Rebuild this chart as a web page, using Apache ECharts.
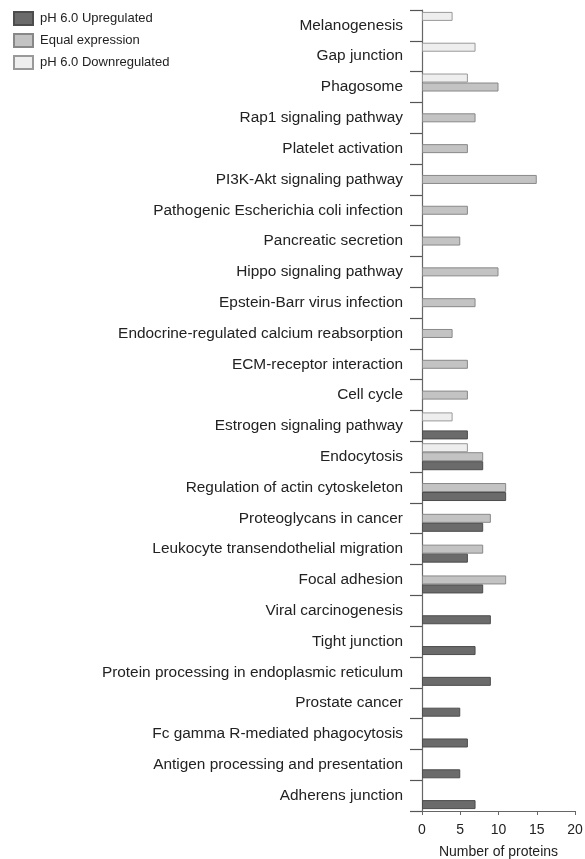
<!DOCTYPE html>
<html>
<head>
<meta charset="utf-8">
<script src="https://cdn.jsdelivr.net/npm/echarts@6/dist/echarts.min.js"></script>
<style>
  html, body { margin: 0; padding: 0; background: #fff; }
  #chart { width: 585px; height: 859px; }
</style>
</head>
<body>
<div id="chart"></div>
<script>
// KEGG pathways, listed top to bottom
const pathways = [
  'Melanogenesis',
  'Gap junction',
  'Phagosome',
  'Rap1 signaling pathway',
  'Platelet activation',
  'PI3K-Akt signaling pathway',
  'Pathogenic Escherichia coli infection',
  'Pancreatic secretion',
  'Hippo signaling pathway',
  'Epstein-Barr virus infection',
  'Endocrine-regulated calcium reabsorption',
  'ECM-receptor interaction',
  'Cell cycle',
  'Estrogen signaling pathway',
  'Endocytosis',
  'Regulation of actin cytoskeleton',
  'Proteoglycans in cancer',
  'Leukocyte transendothelial migration',
  'Focal adhesion',
  'Viral carcinogenesis',
  'Tight junction',
  'Protein processing in endoplasmic reticulum',
  'Prostate cancer',
  'Fc gamma R-mediated phagocytosis',
  'Antigen processing and presentation',
  'Adherens junction'
];

// Number of proteins per pathway (null = no proteins in that group)
const upregulated = [
  null, null, null, null, null, null, null, null, null, null, null, null, null,
  6, 8, 11, 8, 6, 8, 9, 7, 9, 5, 6, 5, 7
];
const equalExpression = [
  null, null, 10, 7, 6, 15, 6, 5, 10, 7, 4, 6, 6,
  null, 8, 11, 9, 8, 11, null, null, null, null, null, null, null
];
const downregulated = [
  4, 7, 6, null, null, null, null, null, null, null, null, null, null,
  4, 6, null, null, null, null, null, null, null, null, null, null, null
];

const xTicks = { min: 0, max: 20, interval: 5 };

const FONT = '"Liberation Sans", Arial, Helvetica, sans-serif';

const chart = echarts.init(document.getElementById('chart'), null, { renderer: 'canvas' });

function barSeries(name, data, fill, border) {
  return {
    name: name,
    type: 'bar',
    data: data,
    barWidth: 9,
    barGap: '0%',
    itemStyle: { color: fill, borderColor: border, borderWidth: 1 },
    emphasis: { disabled: true },
    animation: false
  };
}

chart.setOption({
  backgroundColor: '#ffffff',
  animation: false,
  textStyle: { fontFamily: FONT },
  legend: {
    orient: 'vertical',
    left: 13,
    top: 11,
    padding: 0,
    icon: 'rect',
    itemWidth: 19,
    itemHeight: 13,
    itemGap: 7,
    data: ['pH 6.0 Upregulated', 'Equal expression', 'pH 6.0 Downregulated'],
    textStyle: { fontFamily: FONT, fontSize: 13, color: '#222', padding: [0, 0, 0, 2] },
    selectedMode: false
  },
  grid: { left: 422, right: 10, top: 10, bottom: 48, outerBoundsMode: 'none', containLabel: false },
  xAxis: {
    type: 'value',
    min: xTicks.min,
    max: xTicks.max,
    interval: xTicks.interval,
    name: 'Number of proteins',
    nameLocation: 'middle',
    nameGap: 34,
    nameTextStyle: { fontFamily: FONT, fontSize: 14, color: '#222' },
    axisLine: { show: true, lineStyle: { color: '#666', width: 1.2 } },
    axisTick: { show: true, length: 4, lineStyle: { color: '#666' } },
    axisLabel: { fontFamily: FONT, fontSize: 14, color: '#222', margin: 12 },
    splitLine: { show: false }
  },
  yAxis: {
    type: 'category',
    data: pathways,
    inverse: true,
    axisLine: { show: true, lineStyle: { color: '#666', width: 1.2 } },
    axisTick: { show: true, length: 12, lineStyle: { color: '#555', width: 1.2 } },
    axisLabel: { fontFamily: FONT, fontSize: 15.4, color: '#222', margin: 19 },
    splitLine: { show: false }
  },
  series: [
    barSeries('pH 6.0 Downregulated', downregulated, '#eeeeee', '#999999'),
    barSeries('Equal expression', equalExpression, '#c3c3c3', '#888888'),
    barSeries('pH 6.0 Upregulated', upregulated, '#6b6b6b', '#4d4d4d')
  ]
});
</script>
</body>
</html>
